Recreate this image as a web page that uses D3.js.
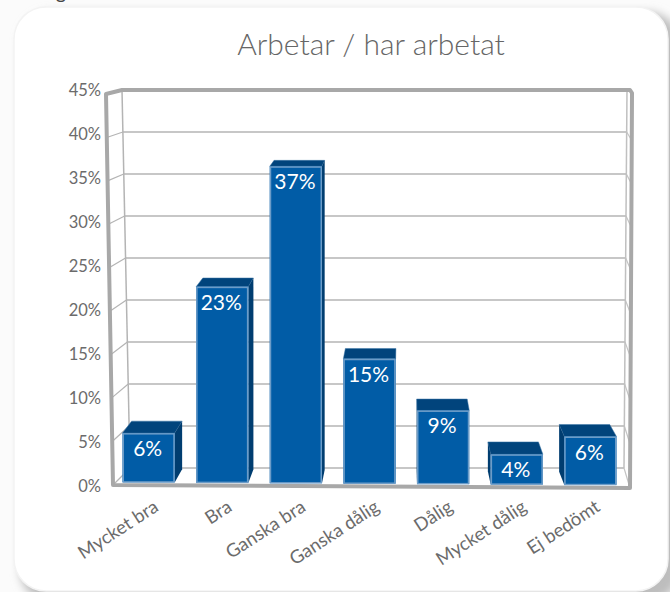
<!DOCTYPE html>
<html>
<head>
<meta charset="utf-8">
<script src="https://cdn.jsdelivr.net/npm/d3@7"></script>
<style>
  html, body { margin: 0; padding: 0; background: #fff; overflow: hidden; }
  svg { display: block; }
  text { font-family: Lato, "Open Sans", sans-serif; }
</style>
</head>
<body>
<script>
//chart data
var categories = ["Mycket bra", "Bra", "Ganska bra", "Ganska dålig", "Dålig", "Mycket dålig", "Ej bedömt"];
var values = [6.0, 22.9, 36.8, 14.7, 8.8, 3.8, 5.9];
var yTicks = [0, 5, 10, 15, 20, 25, 30, 35, 40, 45];
var title = "Arbetar / har arbetat";

var width = 670,
  height = 592;

var svg = d3.select("body")
  .append("svg")
  .attr("width", width)
  .attr("height", height);

var defs = svg.append("defs");
var shadow = defs.append("filter")
  .attr("id", "cardShadow")
  .attr("x", "-10%").attr("y", "-10%")
  .attr("width", "120%").attr("height", "120%");
shadow.append("feGaussianBlur").attr("stdDeviation", 5);

//page background and rounded card
svg.append("rect").attr("width", width).attr("height", height).attr("fill", "#fbfbfb");
svg.append("rect")
  .attr("x", 20).attr("y", 12)
  .attr("width", 660).attr("height", 590)
  .attr("rx", 32)
  .attr("fill", "#bdbdbd")
  .attr("filter", "url(#cardShadow)");
svg.append("rect")
  .attr("x", 14).attr("y", 7)
  .attr("width", 654).attr("height", 584)
  .attr("rx", 32)
  .attr("fill", "#fff")
  .attr("stroke", "#f3f3f3")
  .attr("stroke-width", 1.5);

//cut off text from whatever sits above the chart
svg.append("text")
  .attr("x", 61).attr("y", -1)
  .attr("text-anchor", "middle")
  .attr("font-size", 20)
  .attr("fill", "#444")
  .text("g");

svg.append("text")
  .attr("x", 371).attr("y", 55)
  .attr("text-anchor", "middle")
  .attr("font-size", 30)
  .attr("font-weight", 300)
  .attr("fill", "#666")
  .text(title);

//frame scales: front plane and back wall
var yFront = d3.scaleLinear().domain([0, 45]).range([485, 94]);
var yBack = d3.scaleLinear().domain([0, 45]).range([468, 90]);
var xFrontLeft = d3.scaleLinear().domain([0, 45]).range([113, 106]);
var xBackLeft = d3.scaleLinear().domain([0, 45]).range([130, 122]);
var xBackRight = d3.scaleLinear().domain([0, 45]).range([624, 627]);
var xFrontRight = d3.scaleLinear().domain([0, 45]).range([630, 632]);
var tilt = d3.scaleLinear().domain([113, 630]).range([0, 3]); //floor runs slightly downhill
var yLabel = d3.scaleLinear().domain([0, 45]).range([486, 90]);

var thin = "#b4b4b4", thick = "#a8a8a8";

function line(g, x1, y1, x2, y2, color, w) {
  g.append("line")
    .attr("x1", x1).attr("y1", y1)
    .attr("x2", x2).attr("y2", y2)
    .attr("stroke", color)
    .attr("stroke-width", w);
}

//gridlines on the back wall and both side walls
var grid = svg.append("g").attr("class", "grid");
yTicks.forEach(function(t) {
  if (t < 45) {
    line(grid, xBackLeft(t), yBack(t), xBackRight(t), yBack(t), thin, 1.5);
    line(grid, xFrontLeft(t), yFront(t), xBackLeft(t), yBack(t), thin, 1.2);
    line(grid, xBackRight(t), yBack(t), xFrontRight(t), yFront(t) + 3, "#c4c4c4", 1.2);
  }
});
line(grid, xBackLeft(0), yBack(0), xBackLeft(45), yBack(45), thin, 1.5);
line(grid, xBackRight(0), yBack(0), xBackRight(45), yBack(45), "#c0c0c0", 1.5);

//heavy outer frame
var frame = svg.append("g").attr("class", "frame");
var framePts = [
  [xFrontLeft(45), yFront(45)],
  [xBackLeft(45), yBack(45)],
  [xFrontRight(45) - 2, yBack(45)],
  [xFrontRight(45), yBack(45) + 3],
  [xFrontRight(0), yFront(0) + 3],
  [xFrontLeft(0), yFront(0)]
];
frame.append("path")
  .attr("d", d3.line()(framePts) + "Z")
  .attr("fill", "none")
  .attr("stroke", thick)
  .attr("stroke-width", 4)
  .attr("stroke-linejoin", "round");

//bars
var x = d3.scaleBand()
  .domain(categories)
  .range([122.5, 616.5])
  .paddingInner(0.29)
  .paddingOuter(0);

//push a front-face point back along the bar's depth
function toBack(p) {
  return [p[0] + (405 - p[0]) * 0.032, p[1] + (-100 - p[1]) * 0.0224];
}

var bars = svg.append("g").attr("class", "bars")
  .selectAll("g")
  .data(categories)
  .enter()
  .append("g")
  .attr("class", "bar");

bars.each(function(cat, i) {
  var g = d3.select(this);
  var x0 = x(cat), x1 = x0 + x.bandwidth();
  var shift = tilt((x0 + x1) / 2);
  var yTop = yFront(values[i]) + shift;
  var yBot = yFront(0) + shift - 3;
  var tl = [x0, yTop], tr = [x1, yTop], bl = [x0, yBot], br = [x1, yBot];

  //top face
  g.append("path")
    .attr("d", d3.line()([tl, tr, toBack(tr), toBack(tl)]) + "Z")
    .attr("fill", "#01447c")
    .attr("stroke", "#3f76a6")
    .attr("stroke-width", 0.5);
  //visible side face
  var side = x0 + x.bandwidth() / 2 < 405 ? [tr, br, toBack(br), toBack(tr)] : [tl, bl, toBack(bl), toBack(tl)];
  g.append("path")
    .attr("d", d3.line()(side) + "Z")
    .attr("fill", "#003d70");
  //front face
  g.append("rect")
    .attr("x", x0).attr("y", yTop)
    .attr("width", x1 - x0).attr("height", yBot - yTop)
    .attr("fill", "#015ca6");
  g.append("rect")
    .attr("x", x0 + 0.75).attr("y", yTop + 0.75)
    .attr("width", x1 - x0 - 1.5).attr("height", yBot - yTop - 1)
    .attr("fill", "none")
    .attr("stroke", "#6c9cc8")
    .attr("stroke-width", 1.5);

  //value label
  g.append("text")
    .attr("x", (x0 + x1) / 2 - 1).attr("y", yTop + 23)
    .attr("text-anchor", "middle")
    .attr("font-size", 21)
    .attr("fill", "#fff")
    .text(d3.format(".0f")(values[i]) + "%");
});

//y axis labels
var yAxis = svg.append("g")
  .attr("transform", "translate(101,0)")
  .call(d3.axisLeft(yLabel)
    .tickValues(yTicks)
    .tickSize(0)
    .tickPadding(0)
    .tickFormat(function(d) { return d + "%"; }));
yAxis.select(".domain").remove();
yAxis.selectAll("text")
  .attr("font-size", 16.5)
  .attr("fill", "#6b6b6b")
  .style("font-family", "Lato, sans-serif");

//category labels, rotated
svg.append("g").attr("class", "catLabels")
  .selectAll("text")
  .data(categories)
  .enter()
  .append("text")
  .attr("transform", function(d) {
    return "translate(" + (x(d) + x.bandwidth() / 2 + 11) + ",510) rotate(-33)";
  })
  .attr("text-anchor", "end")
  .attr("font-size", 18.5)
  .attr("fill", "#6b6b6b")
  .text(function(d) { return d; });
</script>
</body>
</html>
